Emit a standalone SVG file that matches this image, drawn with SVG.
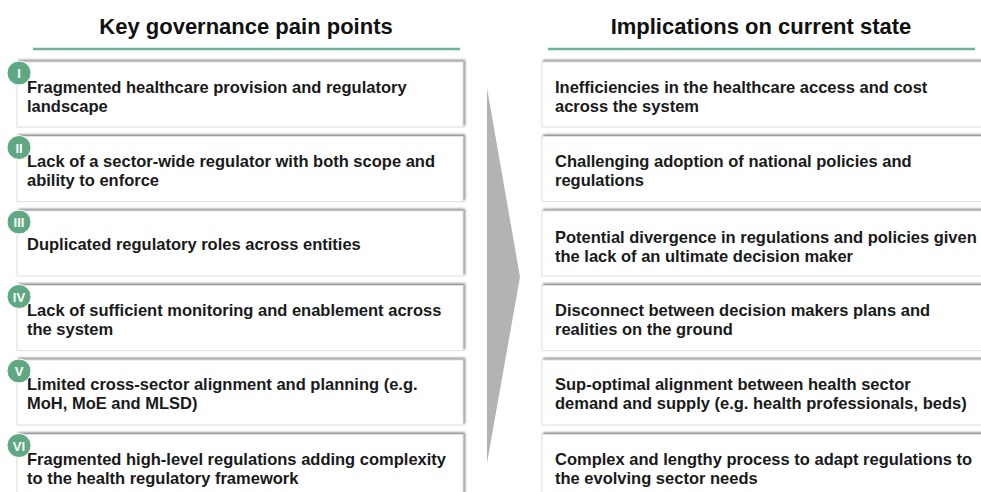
<svg xmlns="http://www.w3.org/2000/svg" width="981" height="492" viewBox="0 0 981 492">
<defs>
<filter id="sh" x="-5%" y="-20%" width="110%" height="140%">
<feDropShadow dx="1.6" dy="-1.6" stdDeviation="0.9" flood-color="#6f6f6f" flood-opacity="0.85"/>
</filter>
</defs>
<style>
.title{font-family:"Liberation Sans",Arial,sans-serif;font-weight:bold;font-size:22px;fill:#111;text-anchor:middle}
.t{font-family:"Liberation Sans",Arial,sans-serif;font-weight:bold;font-size:16.5px;fill:#1a1a1a}
.box{fill:#fff;stroke:#e2e2e2;stroke-width:1;filter:url(#sh)}
.rule{stroke:#6fb296;stroke-width:2.5}
.badge{fill:#5ea883;stroke:#fff;stroke-width:1}
.num{font-family:"Liberation Sans",Arial,sans-serif;font-weight:bold;font-size:13px;fill:#fff;text-anchor:middle}
</style>
<rect width="981" height="492" fill="#fff"/>
<g id="headers">
<text class="title" x="246" y="34">Key governance pain points</text>
<line class="rule" x1="33" y1="49" x2="460" y2="49"/>
<text class="title" x="761" y="34">Implications on current state</text>
<line class="rule" x1="548" y1="49" x2="975" y2="49"/>
</g>
<g id="arrow">
<polygon points="487,88 520,277 487,463" fill="#b3b3b3"/>
</g>
<g id="pain1"><rect class="box" x="17" y="62" width="446" height="65"/><text class="t" x="27" y="93">Fragmented healthcare provision and regulatory</text><text class="t" x="27" y="112">landscape</text><circle class="badge" cx="19" cy="73" r="12"/><text class="num" x="19" y="78">I</text></g>
<g id="pain2"><rect class="box" x="17" y="136.5" width="446" height="65"/><text class="t" x="27" y="167">Lack of a sector-wide regulator with both scope and</text><text class="t" x="27" y="186">ability to enforce</text><circle class="badge" cx="19" cy="147.5" r="12"/><text class="num" x="19" y="152.5">II</text></g>
<g id="pain3"><rect class="box" x="17" y="211" width="446" height="65"/><text class="t" x="27" y="250">Duplicated regulatory roles across entities</text><circle class="badge" cx="19" cy="222" r="12"/><text class="num" x="19" y="227">III</text></g>
<g id="pain4"><rect class="box" x="17" y="285.5" width="446" height="65"/><text class="t" x="27" y="316">Lack of sufficient monitoring and enablement across</text><text class="t" x="27" y="335">the system</text><circle class="badge" cx="19" cy="296.5" r="12"/><text class="num" x="19" y="301.5">IV</text></g>
<g id="pain5"><rect class="box" x="17" y="360" width="446" height="65"/><text class="t" x="27" y="390">Limited cross-sector alignment and planning (e.g.</text><text class="t" x="27" y="409">MoH, MoE and MLSD)</text><circle class="badge" cx="19" cy="371" r="12"/><text class="num" x="19" y="376">V</text></g>
<g id="pain6"><rect class="box" x="17" y="434.5" width="446" height="65"/><text class="t" x="27" y="465">Fragmented high-level regulations adding complexity</text><text class="t" x="27" y="484">to the health regulatory framework</text><circle class="badge" cx="19" cy="445.5" r="12"/><text class="num" x="19" y="450.5">VI</text></g>
<g id="impl1"><rect class="box" x="542" y="62" width="460" height="65"/><text class="t" x="555" y="93">Inefficiencies in the healthcare access and cost</text><text class="t" x="555" y="112">across the system</text></g>
<g id="impl2"><rect class="box" x="542" y="136.5" width="460" height="65"/><text class="t" x="555" y="167">Challenging adoption of national policies and</text><text class="t" x="555" y="186">regulations</text></g>
<g id="impl3"><rect class="box" x="542" y="211" width="460" height="65"/><text class="t" x="555" y="243">Potential divergence in regulations and policies given</text><text class="t" x="555" y="262">the lack of an ultimate decision maker</text></g>
<g id="impl4"><rect class="box" x="542" y="285.5" width="460" height="65"/><text class="t" x="555" y="316">Disconnect between decision makers plans and</text><text class="t" x="555" y="335">realities on the ground</text></g>
<g id="impl5"><rect class="box" x="542" y="360" width="460" height="65"/><text class="t" x="555" y="390">Sup-optimal alignment between health sector</text><text class="t" x="555" y="409">demand and supply (e.g. health professionals, beds)</text></g>
<g id="impl6"><rect class="box" x="542" y="434.5" width="460" height="65"/><text class="t" x="555" y="465">Complex and lengthy process to adapt regulations to</text><text class="t" x="555" y="484">the evolving sector needs</text></g>
<g id="connectors"></g>
</svg>
